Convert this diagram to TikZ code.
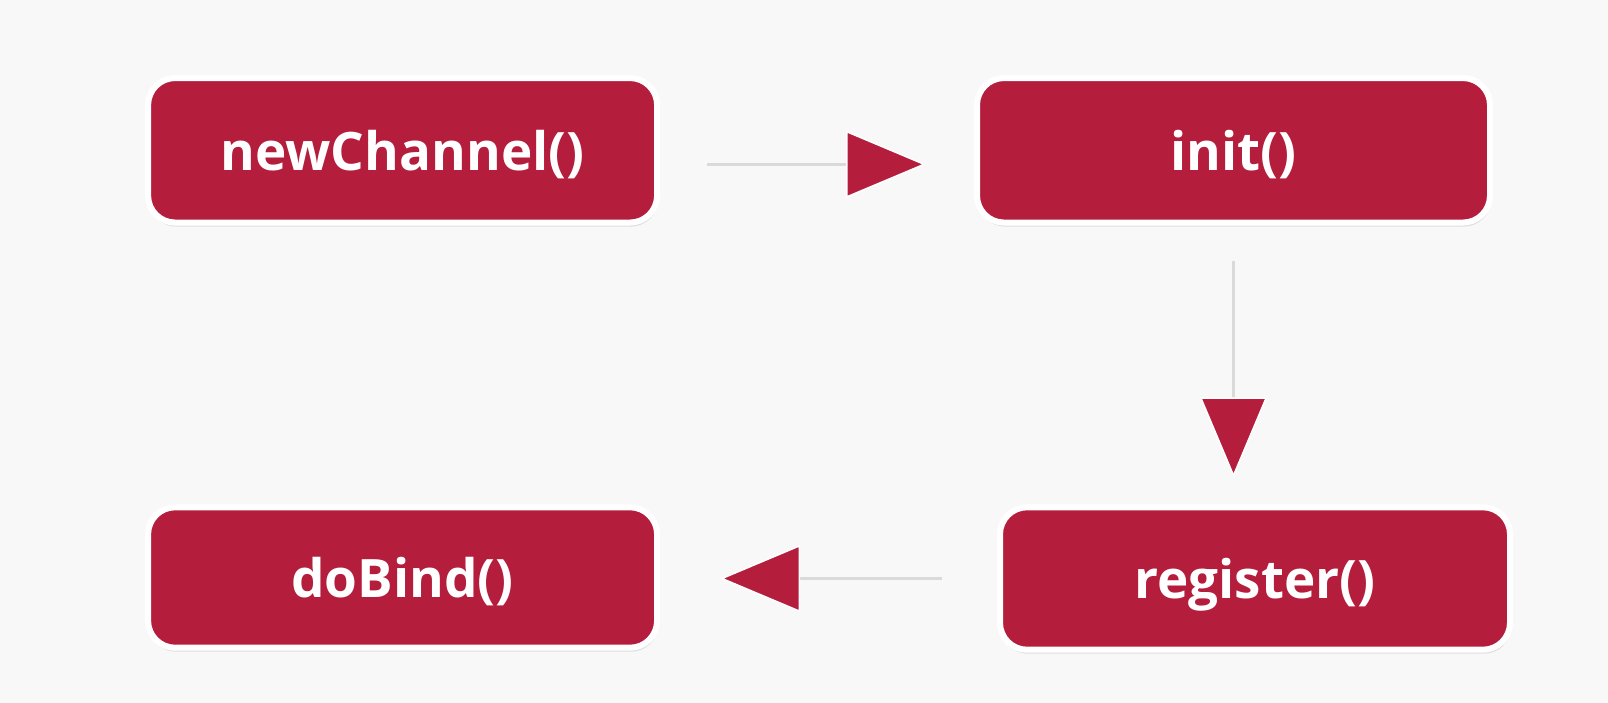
\documentclass[tikz,border=0pt]{standalone}
\usepackage{fontspec}
\setmainfont{Open Sans}
\usetikzlibrary{arrows.meta,shadows}
\definecolor{myred}{RGB}{181,29,61}
\definecolor{bg}{RGB}{248,248,248}
\definecolor{linegray}{RGB}{218,218,218}
\begin{document}
\begin{tikzpicture}[x=1pt,y=-1pt,
  stepbox/.style={rounded corners=27pt, fill=myred, draw=white, line width=6pt,
    minimum width=509pt, minimum height=144.5pt, inner sep=0pt, text depth=0pt,
    text=white, font=\fontsize{53}{60}\selectfont\bfseries,
    drop shadow={opacity=0.22, shadow xshift=1pt, shadow yshift=-4pt}},
  conn/.style={draw=linegray, line width=3pt,
    -{Triangle[length=80pt,width=67pt,fill=myred,color=white,line width=1.5pt]}}
]
\fill[bg] (0,0) rectangle (1608,703);
\useasboundingbox (0,0) rectangle (1608,703);
\node[stepbox] (nc) at (402.6,150.3) {newChannel()};
\node[stepbox, minimum width=513pt] (init) at (1233.5,150.3) {init()};
\node[stepbox, minimum height=140.4pt] (db) at (402.6,577.5) {doBind()};
\node[stepbox, minimum width=510pt, minimum height=142.4pt] (reg) at (1255,578.5) {register()};
\draw[conn, shorten <=47pt, shorten >=48pt] ([yshift=-14pt]nc.east) -- ([yshift=-14pt]nc.east -| init.west);
\draw[conn, shorten <=35pt, shorten >=27pt] (init.south) -- (init.south |- reg.north);
\draw[conn, shorten <=55pt, shorten >=60pt] (reg.west) -- (reg.west -| db.east);
\end{tikzpicture}
\end{document}
